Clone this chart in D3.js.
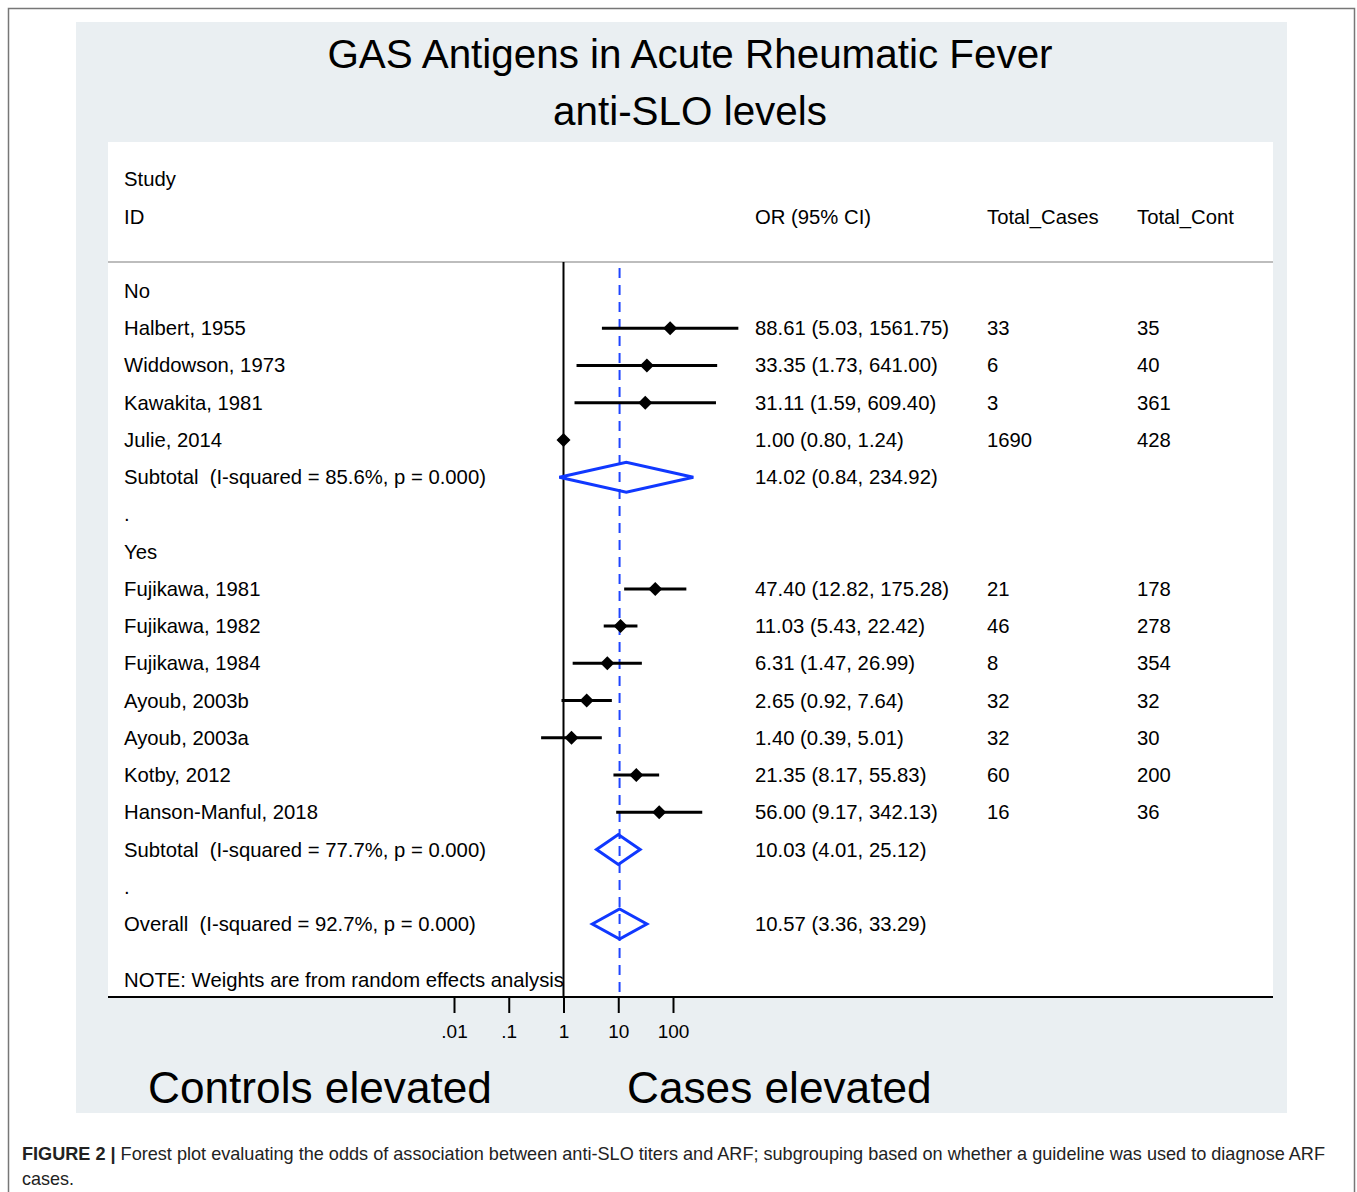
<!DOCTYPE html>
<html>
<head>
<meta charset="utf-8">
<script src="https://cdn.jsdelivr.net/npm/d3@7"></script>
<style>
  html, body { margin: 0; padding: 0; background: #fff; }
  svg { display: block; font-family: "Liberation Sans", Arial, Helvetica, sans-serif; }
  svg text { white-space: pre; }
</style>
</head>
<body>
<div id="chart"></div>
<script>
// study level data
var studyLabels = ["Halbert, 1955", "Widdowson, 1973", "Kawakita, 1981", "Julie, 2014",
  "Fujikawa, 1981", "Fujikawa, 1982", "Fujikawa, 1984", "Ayoub, 2003b", "Ayoub, 2003a",
  "Kotby, 2012", "Hanson-Manful, 2018"];
var studyGroup = ["No", "No", "No", "No", "Yes", "Yes", "Yes", "Yes", "Yes", "Yes", "Yes"];
var studyOR = [88.61, 33.35, 31.11, 1.00, 47.40, 11.03, 6.31, 2.65, 1.40, 21.35, 56.00];
var studyLo = [5.03, 1.73, 1.59, 0.80, 12.82, 5.43, 1.47, 0.92, 0.39, 8.17, 9.17];
var studyHi = [1561.75, 641.00, 609.40, 1.24, 175.28, 22.42, 26.99, 7.64, 5.01, 55.83, 342.13];
var totalCases = [33, 6, 3, 1690, 21, 46, 8, 32, 32, 60, 16];
var totalCont = [35, 40, 361, 428, 178, 278, 354, 32, 30, 200, 36];

// pooled estimates
var groups = ["No", "Yes"];
var subtotalLabels = ["Subtotal  (I-squared = 85.6%, p = 0.000)", "Subtotal  (I-squared = 77.7%, p = 0.000)"];
var subtotalOR = [14.02, 10.03];
var subtotalLo = [0.84, 4.01];
var subtotalHi = [234.92, 25.12];
var overallLabel = "Overall  (I-squared = 92.7%, p = 0.000)";
var overallOR = 10.57, overallLo = 3.36, overallHi = 33.29;

var tickValues = [0.01, 0.1, 1, 10, 100];
var tickLabels = [".01", ".1", "1", "10", "100"];

var W = 1357, H = 1192;
var f2 = d3.format(".2f");
function orText(o, l, h) { return f2(o) + " (" + f2(l) + ", " + f2(h) + ")"; }

// build the row list
var rows = [];
groups.forEach(function (g, gi) {
  rows.push({ type: "head", label: g });
  studyLabels.forEach(function (s, i) {
    if (studyGroup[i] !== g) return;
    rows.push({ type: "study", label: s, or: studyOR[i], lo: studyLo[i], hi: studyHi[i],
      cases: totalCases[i], cont: totalCont[i] });
  });
  rows.push({ type: "pooled", label: subtotalLabels[gi], or: subtotalOR[gi], lo: subtotalLo[gi], hi: subtotalHi[gi] });
  rows.push({ type: "blank", label: "." });
});
rows.push({ type: "pooled", label: overallLabel, or: overallOR, lo: overallLo, hi: overallHi });

var svg = d3.select("#chart").append("svg").attr("width", W).attr("height", H);

// outer frame
svg.append("rect").attr("x", 8.5).attr("y", 8.5).attr("width", 1346).attr("height", 1200)
  .attr("fill", "#fff").attr("stroke", "#777").attr("stroke-width", 1.5);
// graph background
svg.append("rect").attr("x", 76).attr("y", 22).attr("width", 1211).attr("height", 1091).attr("fill", "#eaeff2");
// plot region
svg.append("rect").attr("x", 108).attr("y", 142).attr("width", 1165).attr("height", 855).attr("fill", "#fff");

// title
svg.append("text").attr("x", 690).attr("y", 68).attr("text-anchor", "middle")
  .attr("font-size", 40.4).text("GAS Antigens in Acute Rheumatic Fever");
svg.append("text").attr("x", 690).attr("y", 125).attr("text-anchor", "middle")
  .attr("font-size", 40.4).text("anti-SLO levels");

var x = d3.scaleLog().domain([0.01, 100]).range([454, 673]);
var y = d3.scaleLinear().domain([0, rows.length - 1]).range([291, 924]);

var colText = 124, colOR = 755, colCases = 987, colCont = 1137;
var fs = 20.3;

// column headers
var hdr = svg.append("g").attr("font-size", fs);
hdr.append("text").attr("x", colText).attr("y", y(-3) + 7).text("Study");
hdr.append("text").attr("x", colText).attr("y", y(-2) + 7).text("ID");
hdr.append("text").attr("x", colOR).attr("y", y(-2) + 7).text("OR (95% CI)");
hdr.append("text").attr("x", colCases).attr("y", y(-2) + 7).text("Total_Cases");
hdr.append("text").attr("x", colCont).attr("y", y(-2) + 7).text("Total_Cont");

svg.append("line").attr("x1", 108).attr("x2", 1273).attr("y1", 262).attr("y2", 262)
  .attr("stroke", "#bdbdbd").attr("stroke-width", 2);

// null line and overall line
svg.append("line").attr("x1", x(1)).attr("x2", x(1)).attr("y1", 262).attr("y2", 997)
  .attr("stroke", "#000").attr("stroke-width", 2);
svg.append("line").attr("x1", x(overallOR)).attr("x2", x(overallOR)).attr("y1", 268).attr("y2", 997)
  .attr("stroke", "#1f45ff").attr("stroke-width", 2).attr("stroke-dasharray", "10,7");

// row texts
var rowG = svg.append("g").attr("font-size", fs);
rows.forEach(function (r, i) {
  var yy = y(i) + 7;
  rowG.append("text").attr("x", colText).attr("y", yy).text(r.label);
  if (r.type === "study" || r.type === "pooled") {
    rowG.append("text").attr("x", colOR).attr("y", yy).text(orText(r.or, r.lo, r.hi));
  }
  if (r.type === "study") {
    rowG.append("text").attr("x", colCases).attr("y", yy).text(r.cases);
    rowG.append("text").attr("x", colCont).attr("y", yy).text(r.cont);
  }
});
rowG.append("text").attr("x", colText).attr("y", y(rows.length - 1 + 1.5) + 7)
  .text("NOTE: Weights are from random effects analysis");

// CI lines and point estimates
var studyRows = rows.map(function (r, i) { return Object.assign({ i: i }, r); })
  .filter(function (r) { return r.type === "study"; });
svg.append("g").selectAll("line").data(studyRows).enter().append("line")
  .attr("x1", function (d) { return x(d.lo); })
  .attr("x2", function (d) { return x(d.hi); })
  .attr("y1", function (d) { return y(d.i); })
  .attr("y2", function (d) { return y(d.i); })
  .attr("stroke", "#000").attr("stroke-width", 3);
var m = 7;
svg.append("g").selectAll("path").data(studyRows).enter().append("path")
  .attr("d", function (d) {
    var cx = x(d.or), cy = y(d.i);
    return "M" + (cx - m) + "," + cy + "L" + cx + "," + (cy - m) + "L" + (cx + m) + "," + cy + "L" + cx + "," + (cy + m) + "Z";
  })
  .attr("fill", "#000");

// pooled diamonds
var pooledRows = rows.map(function (r, i) { return Object.assign({ i: i }, r); })
  .filter(function (r) { return r.type === "pooled"; });
var dh = 15;
svg.append("g").selectAll("path").data(pooledRows).enter().append("path")
  .attr("d", function (d) {
    var cy = y(d.i);
    return "M" + x(d.lo) + "," + cy + "L" + x(d.or) + "," + (cy - dh) + "L" + x(d.hi) + "," + cy + "L" + x(d.or) + "," + (cy + dh) + "Z";
  })
  .attr("fill", "none").attr("stroke", "#1038ff").attr("stroke-width", 3).attr("stroke-linejoin", "miter");

// x axis
svg.append("line").attr("x1", 108).attr("x2", 1273).attr("y1", 997).attr("y2", 997)
  .attr("stroke", "#000").attr("stroke-width", 2);
var axis = d3.axisBottom(x).tickValues(tickValues)
  .tickFormat(function (d, i) { return tickLabels[i]; })
  .tickSize(16).tickSizeOuter(0).tickPadding(12);
var ax = svg.append("g").attr("transform", "translate(0,997)").call(axis);
ax.select(".domain").remove();
ax.selectAll(".tick line").attr("stroke", "#000").attr("stroke-width", 2);
ax.selectAll(".tick text").attr("font-size", 19).attr("fill", "#000")
  .attr("font-family", "Liberation Sans, Arial, sans-serif");

// direction labels
svg.append("text").attr("x", 148).attr("y", 1103).attr("font-size", 44.2).text("Controls elevated");
svg.append("text").attr("x", 627).attr("y", 1103).attr("font-size", 44.2).text("Cases elevated");

// caption
var capFont = "'Liberation Sans Narrow', 'Liberation Sans', Arial, sans-serif";
var cap = svg.append("text").attr("x", 22).attr("y", 1160).attr("font-size", 18.5).attr("fill", "#222")
  .attr("font-family", capFont)
  .attr("textLength", 1303).attr("lengthAdjust", "spacingAndGlyphs");
cap.append("tspan").attr("font-weight", "bold").text("FIGURE 2 | ");
cap.append("tspan").text("Forest plot evaluating the odds of association between anti-SLO titers and ARF; subgrouping based on whether a guideline was used to diagnose ARF");
svg.append("text").attr("x", 22).attr("y", 1185).attr("font-size", 18.5).attr("fill", "#222")
  .attr("font-family", capFont)
  .attr("textLength", 52).attr("lengthAdjust", "spacingAndGlyphs").text("cases.");
</script>
</body>
</html>
